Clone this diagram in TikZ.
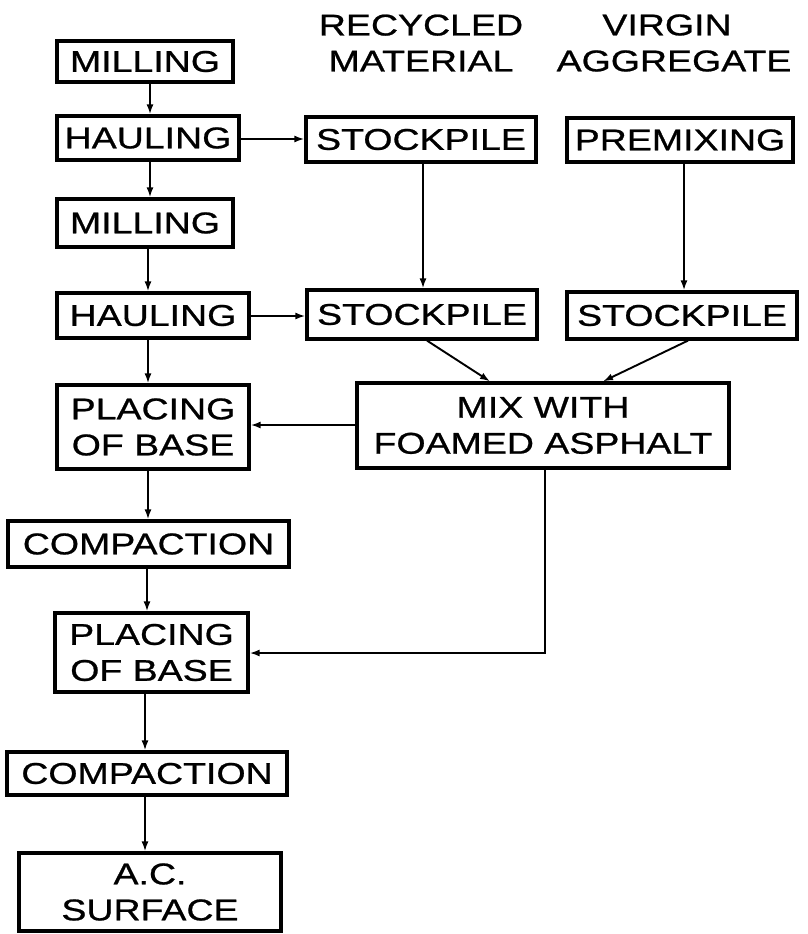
\documentclass[tikz,border=0pt]{standalone}
\usepackage{fontspec}
\usetikzlibrary{arrows.meta,calc}
\newfontfamily\labfont[FakeStretch=1.25,FakeBold=0.8]{Liberation Sans}
\newcommand{\labset}{\labfont\fontsize{30}{36}\selectfont}
\begin{document}
\begin{tikzpicture}[x=1pt,y=-1pt,
  box/.style={draw, line width=3.2pt, inner sep=0pt, align=center, font=\labset},
  hdr/.style={inner sep=0pt, align=center, font=\labset},
  arr/.style={line width=1.9pt, -{Latex[length=10pt,width=7pt]}},
  ln/.style={line width=1.9pt}]
\useasboundingbox (0,0) rectangle (808,934);
% left column
\node[box, minimum width=176pt, minimum height=41pt] (m1) at (145,61.5) {MILLING};
\node[box, minimum width=182pt, minimum height=44pt] (h1) at (148,138) {HAULING};
\node[box, minimum width=176pt, minimum height=48pt] (m2) at (145,223) {MILLING};
\node[box, minimum width=192pt, minimum height=45pt] (h2) at (153,315.5) {HAULING};
\node[box, minimum width=192pt, minimum height=84pt] (p1) at (153,427) {PLACING\\OF BASE};
\node[box, minimum width=281pt, minimum height=46pt] (c1) at (148.5,544) {COMPACTION};
\node[box, minimum width=193pt, minimum height=79pt] (p2) at (151.5,652.5) {PLACING\\OF BASE};
\node[box, minimum width=280pt, minimum height=43pt] (c2) at (147,773.5) {COMPACTION};
\node[box, minimum width=262pt, minimum height=78pt] (ac) at (150,892) {A.C.\\SURFACE};
% headers
\node[hdr] (rh) at (421,43) {RECYCLED\\MATERIAL};
\node[hdr] (vh) at (674,43) {\hspace*{-14pt}VIRGIN\\AGGREGATE};
% right columns
\node[box, minimum width=230pt, minimum height=45pt] (s1) at (421,139.5) {STOCKPILE};
\node[box, minimum width=226pt, minimum height=44pt] (pm) at (680,140) {PREMIXING};
\node[box, minimum width=230pt, minimum height=49pt] (s2) at (422,314.5) {STOCKPILE};
\node[box, minimum width=230pt, minimum height=47pt] (s3) at (682,315.5) {STOCKPILE};
\node[box, minimum width=372pt, minimum height=85pt] (mx) at (543,425.5) {MIX WITH\\FOAMED ASPHALT};
% column x positions
\coordinate (xa) at (150,0);
\coordinate (xb) at (148,0);
\coordinate (xc) at (147,0);
\coordinate (xd) at (145,0);
\coordinate (xr) at (423,0);
\coordinate (xv) at (684,0);
\coordinate (xm) at (545,0);
\coordinate (ya) at (0,139);
\coordinate (yb) at (0,316);
\coordinate (yc) at (0,425);
\coordinate (yd) at (0,653);
% vertical arrows
\draw[arr] (m1.south -| xa) -- (h1.north -| xa);
\draw[arr] (h1.south -| xa) -- (m2.north -| xa);
\draw[arr] (m2.south -| xb) -- (h2.north -| xb);
\draw[arr] (h2.south -| xb) -- (p1.north -| xb);
\draw[arr] (p1.south -| xb) -- (c1.north -| xb);
\draw[arr] (c1.south -| xc) -- (p2.north -| xc);
\draw[arr] (p2.south -| xd) -- (c2.north -| xd);
\draw[arr] (c2.south -| xd) -- (ac.north -| xd);
% horizontal arrows
\draw[arr] (h1.east |- ya) -- (s1.west |- ya);
\draw[arr] (h2.east |- yb) -- (s2.west |- yb);
\draw[arr] (s1.south -| xr) -- (s2.north -| xr);
\draw[arr] (pm.south -| xv) -- (s3.north -| xv);
% to mix
\coordinate (d1) at (427,0);
\coordinate (d2) at (490,0);
\coordinate (d3) at (688,0);
\coordinate (d4) at (603,0);
\draw[arr] (s2.south -| d1) -- (mx.north -| d2);
\draw[arr] (s3.south -| d3) -- (mx.north -| d4);
% from mix
\draw[arr] (mx.west |- yc) -- (p1.east |- yc);
\draw[arr] (mx.south -| xm) -- (xm |- yd) -- (p2.east |- yd);
\end{tikzpicture}
\end{document}
